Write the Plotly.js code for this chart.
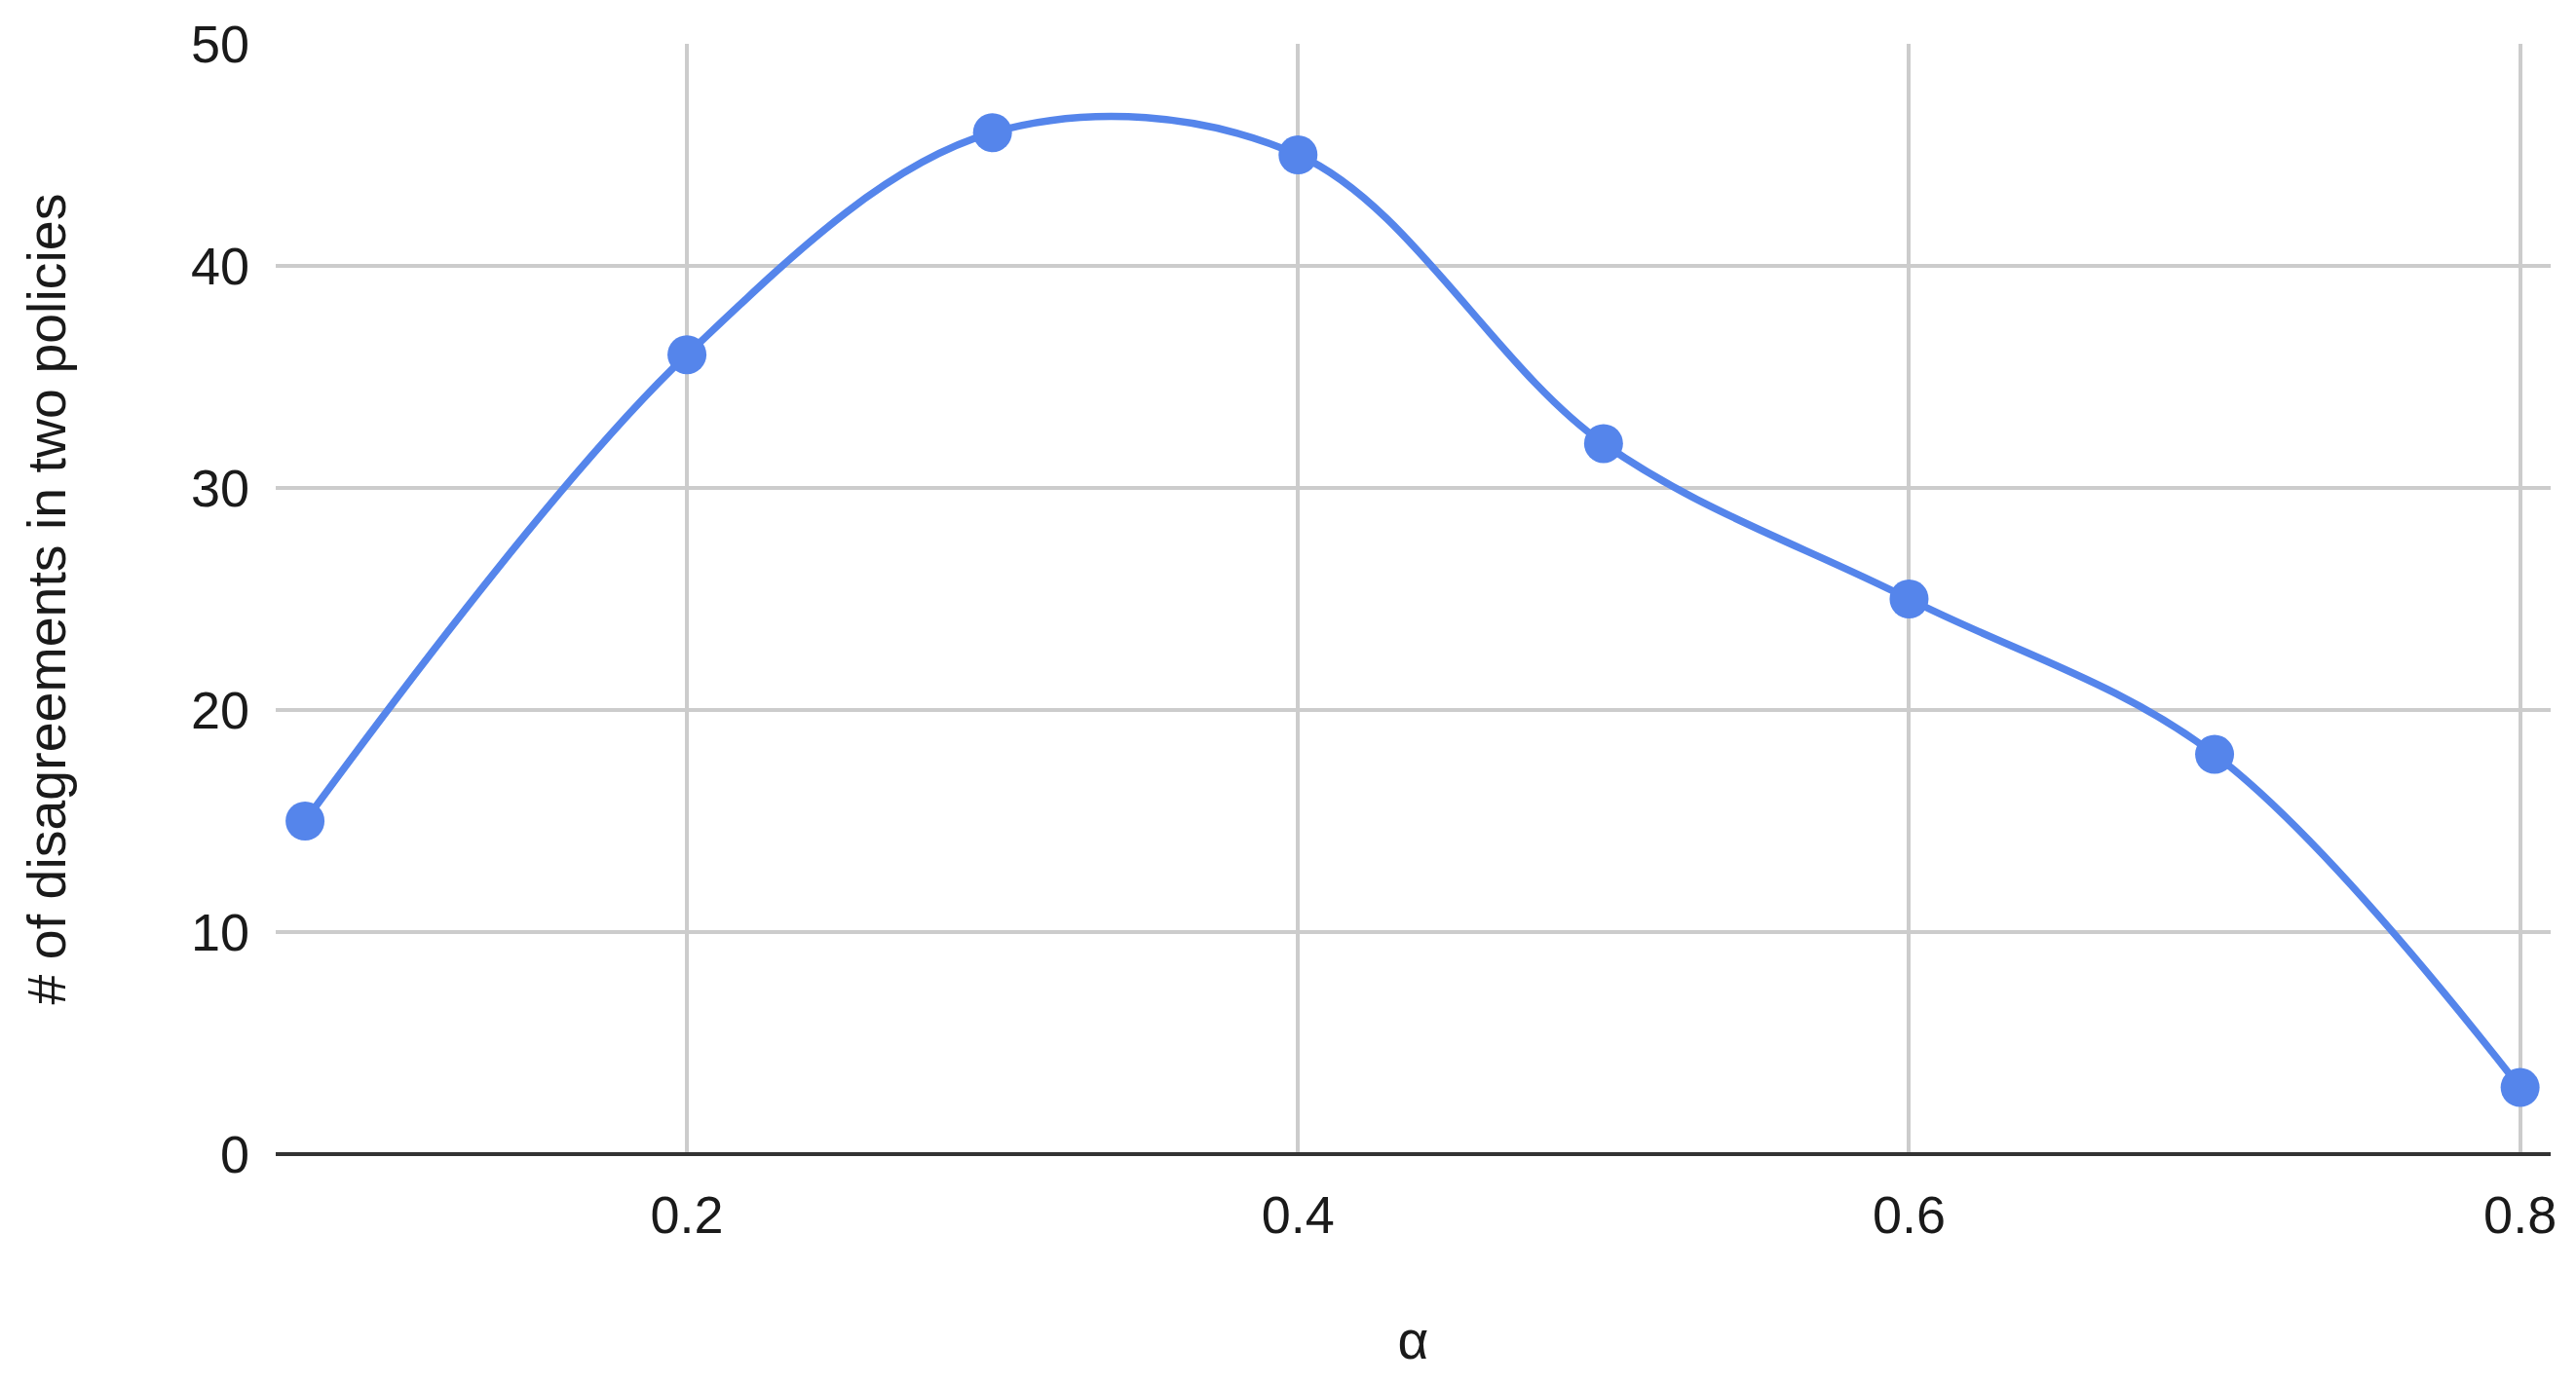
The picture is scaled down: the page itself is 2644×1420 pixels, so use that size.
<!DOCTYPE html>
<html>
<head>
<meta charset="utf-8">
<script src="https://cdn.plot.ly/plotly-3.0.1.min.js"></script>
<style>
  html, body { margin: 0; padding: 0; background: #fff; }
  #chart { width: 2644px; height: 1420px; }
</style>
</head>
<body>
<div id="chart"></div>
<script>
// Data
const alphaValues = [0.075, 0.2, 0.3, 0.4, 0.5, 0.6, 0.7, 0.8];
const disagreements = [15, 36, 46, 45, 32, 25, 18, 3];
const xTickValues = [0.2, 0.4, 0.6, 0.8];
const xTickLabels = ["0.2", "0.4", "0.6", "0.8"];
const yTickValues = [0, 10, 20, 30, 40, 50];
const xTitle = "α";
const yTitle = "# of disagreements in two policies";

const FONT = "Liberation Sans, Arial, sans-serif";
const BLUE = "#5585EB";

const trace = {
  type: "scatter",
  mode: "lines+markers",
  x: alphaValues,
  y: disagreements,
  line: { color: BLUE, width: 7.5, shape: "spline", smoothing: 1 },
  marker: { color: BLUE, size: 40 },
  hoverinfo: "x+y",
  showlegend: false
};

const layout = {
  width: 2644,
  height: 1420,
  margin: { l: 283, r: 26, t: 45, b: 235 },
  paper_bgcolor: "#ffffff",
  plot_bgcolor: "#ffffff",
  font: { family: FONT, size: 54, color: "#1a1a1a" },
  xaxis: {
    range: [0.0654, 0.81],
    tickvals: xTickValues,
    ticktext: xTickLabels,
    showgrid: true,
    gridcolor: "#cccccc",
    gridwidth: 3.5,
    zeroline: false,
    showline: false,
    ticks: "",
    ticklabelstandoff: 26,
    tickfont: { family: FONT, size: 54, color: "#1a1a1a" },
    title: { text: xTitle, font: { family: FONT, size: 55, color: "#1a1a1a" }, standoff: 80 },
    automargin: false,
    fixedrange: true
  },
  yaxis: {
    range: [0, 50],
    tickvals: yTickValues,
    showgrid: true,
    gridcolor: "#cccccc",
    gridwidth: 3.5,
    zeroline: true,
    zerolinecolor: "#333333",
    zerolinewidth: 4,
    showline: false,
    ticks: "",
    ticklabelstandoff: 26,
    tickfont: { family: FONT, size: 54, color: "#1a1a1a" },
    title: { text: yTitle, font: { family: FONT, size: 55.5, color: "#1a1a1a" }, standoff: 110 },
    automargin: false,
    fixedrange: true
  }
};

Plotly.newPlot("chart", [trace], layout, { displayModeBar: false });
</script>
</body>
</html>
